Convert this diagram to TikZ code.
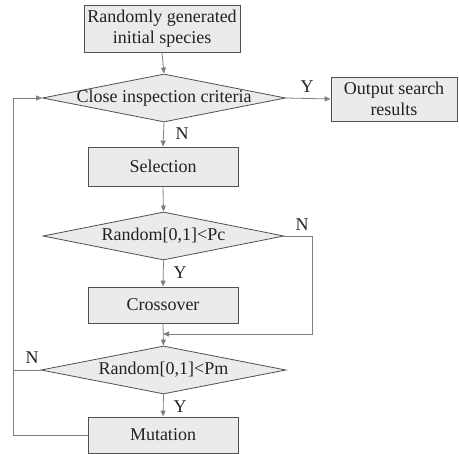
\documentclass[tikz,border=0pt]{standalone}
\usepackage{fontspec}
\setmainfont{Liberation Serif}
\usetikzlibrary{shapes.geometric,arrows.meta}
\definecolor{boxfill}{HTML}{EBEBEB}
\definecolor{boxline}{HTML}{505050}
\definecolor{conline}{HTML}{808080}
\definecolor{txt}{HTML}{222222}
\begin{document}
\begin{tikzpicture}[x=1pt,y=-1pt,
	font=\rmfamily\fontsize{18}{21}\selectfont,text=txt,
	proc/.style={draw=boxline,fill=boxfill,line width=0.8pt,inner sep=0pt,minimum width=150pt,minimum height=37pt,align=center},
	dec/.style={diamond,aspect=5,draw=boxline,fill=boxfill,line width=0.8pt,inner sep=0pt,minimum width=243pt,minimum height=48pt},
	con/.style={draw=conline,line width=0.8pt},
	arr/.style={con,-{Triangle[length=6pt,width=5pt]},conline}]
		\useasboundingbox (0,0) rectangle (459,454);
		%Boxes
		\node[proc,minimum width=156pt,minimum height=47pt] (init) at (162,29) {Randomly generated\\initial species};
		\node[dec] (close) at (164,98) {};
		\node (closetxt) at (close) {Close inspection criteria};
		\node[proc,minimum width=126pt,minimum height=44pt] (out) at (394,99) {Output search\\results};
		\node[proc,minimum height=39pt] (sel) at (163,166.5) {Selection};
		\node[dec,minimum width=241pt] (pc) at (163.5,236) {};
		\node (pctxt) at (pc) {Random[0,1]<Pc};
		\node[proc,minimum height=36pt] (cross) at (163,305) {Crossover};
		\node[dec,minimum width=245pt] (pm) at (163.5,370) {};
		\node (pmtxt) at (pm) {Random[0,1]<Pm};
		\node[proc,minimum height=36pt] (mut) at (163,435) {Mutation};
		%Corners
		\coordinate (rgt) at (312,334);
		\coordinate (lft) at (13,435);
		%Connectors
		\draw[arr] (init.south) -- (close.north);
		\draw[arr] (close.east) -- (out.west);
		\draw[arr] (close.south) -- (sel.north);
		\draw[arr] (sel.south) -- (pc.north);
		\draw[arr] (pc.south) -- (cross.north);
		\draw[arr] (pc.east) -| (rgt) -- (rgt -| cross.south);
		\draw[arr] (cross.south) -- (pm.north);
		\draw[arr] (pm.south) -- (mut.north);
		\draw[arr] (mut.west) -- (lft) |- (close.west);
		\draw[con] (pm.west) -- (pm.west -| lft);
		%Labels
		\node (y1) at (307,87) {Y};
		\node (n1) at (182,134) {N};
		\node (n2) at (302,225) {N};
		\node (y2) at (180,273) {Y};
		\node (n3) at (32,358) {N};
		\node (y3) at (180,407) {Y};
\end{tikzpicture}
\end{document}
